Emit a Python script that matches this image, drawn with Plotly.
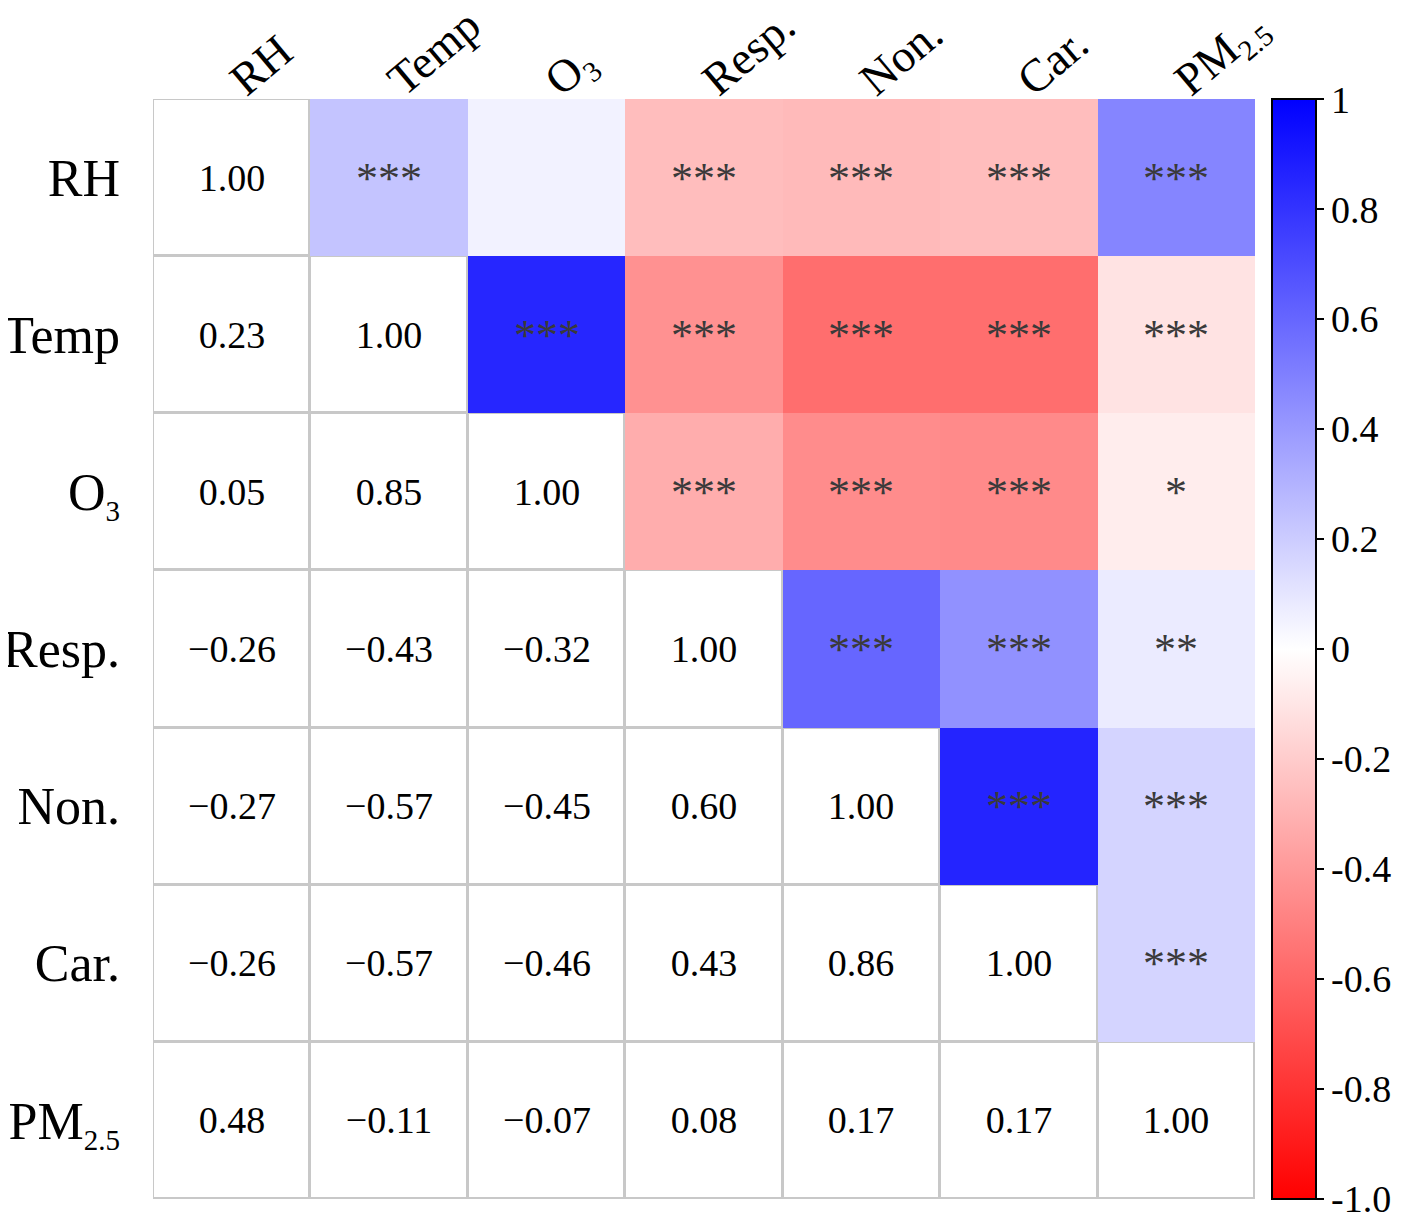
import plotly.graph_objects as go

# Variables (same order on both axes)
sub = "<sub><span style='font-size:29px'>{}</span></sub>"
labels = ["RH", "Temp", "O" + sub.format("3"), "Resp.", "Non.", "Car.", "PM" + sub.format("2.5")]

# Lower triangle (incl. diagonal) of the correlation matrix, row by row
corr_rows = [
    [1.00],
    [0.23, 1.00],
    [0.05, 0.85, 1.00],
    [-0.26, -0.43, -0.32, 1.00],
    [-0.27, -0.57, -0.45, 0.60, 1.00],
    [-0.26, -0.57, -0.46, 0.43, 0.86, 1.00],
    [0.48, -0.11, -0.07, 0.08, 0.17, 0.17, 1.00],
]

# Significance marks for the upper triangle, row by row (columns right of diagonal)
star_rows = [
    ["***", "", "***", "***", "***", "***"],
    ["***", "***", "***", "***", "***"],
    ["***", "***", "***", "*"],
    ["***", "***", "**"],
    ["***", "***"],
    ["***"],
    [],
]

cbar_vals = [1, 0.8, 0.6, 0.4, 0.2, 0, -0.2, -0.4, -0.6, -0.8, -1.0]
cbar_text = ["1", "0.8", "0.6", "0.4", "0.2", "0", "-0.2", "-0.4", "-0.6", "-0.8", "-1.0"]

n = len(labels)
serif = "Liberation Serif"

# build matrices for the two layers
z_up, t_up, z_low, t_low = [], [], [], []
for i in range(n):
    zu, tu, zl, tl = [], [], [], []
    for j in range(n):
        if j > i:
            zu.append(corr_rows[j][i])
            tu.append(star_rows[i][j - i - 1])
            zl.append(None)
            tl.append("")
        else:
            zu.append(None)
            tu.append("")
            zl.append(0)
            tl.append(f"{corr_rows[i][j]:.2f}".replace("-", "\u2212"))
    z_up.append(zu)
    t_up.append(tu)
    z_low.append(zl)
    t_low.append(tl)

fig = go.Figure()

# white numbered cells with grey borders (background shows through the gaps)
fig.add_trace(go.Heatmap(
    z            = z_low,
    x            = labels,
    y            = labels,
    text         = t_low,
    texttemplate = "%{text}",
    textfont     = dict(family=serif, size=38, color="black"),
    colorscale   = [[0, "white"], [1, "white"]],
    showscale    = False,
    xgap         = 3,
    ygap         = 3,
    hoverinfo    = "skip",
))

# coloured upper triangle with stars
fig.add_trace(go.Heatmap(
    z            = z_up,
    x            = labels,
    y            = labels,
    text         = t_up,
    texttemplate = "%{text}",
    textfont     = dict(family=serif, size=44, color="#3a3a3a"),
    colorscale   = [[0, "rgb(255,0,0)"], [0.5, "white"], [1, "rgb(0,0,255)"]],
    zmin         = -1.0005,   # tiny pad so the -1.0 / 1 end ticks are kept
    zmax         = 1.0005,
    colorbar     = dict(
        x                 = 1.0154,
        xanchor           = "left",
        xpad              = 0,
        y                 = 0.5,
        len               = 1,
        ypad              = 0,
        thickness         = 44,
        outlinewidth      = 2,
        outlinecolor      = "black",
        ticks             = "outside",
        ticklen           = 7,
        tickwidth         = 2,
        tickcolor         = "black",
        tickvals          = cbar_vals,
        ticktext          = cbar_text,
        ticklabeloverflow = "allow",
        tickfont          = dict(family=serif, size=38, color="black"),
    ),
))

# page body adds an 8px offset, so the figure is 8px smaller than the window
fig.update_layout(
    width         = 1398,
    height        = 1206,
    margin        = dict(l=145, r=151, t=91, b=15),
    paper_bgcolor = "white",
    plot_bgcolor  = "#c8c8c8",
    font          = dict(family=serif, color="black"),
    xaxis         = dict(
        side              = "top",
        tickangle         = -40,
        tickfont          = dict(size=46),
        showgrid          = False,
        zeroline          = False,
        ticks             = "",
        ticklabelstandoff = -14,
        automargin        = False,
    ),
    yaxis         = dict(
        autorange          = "reversed",
        tickfont           = dict(size=52),
        showgrid           = False,
        zeroline           = False,
        ticks              = "",
        ticklabelstandoff  = 32,
        automargin         = False,
    ),
)

fig.write_html("out.html")
